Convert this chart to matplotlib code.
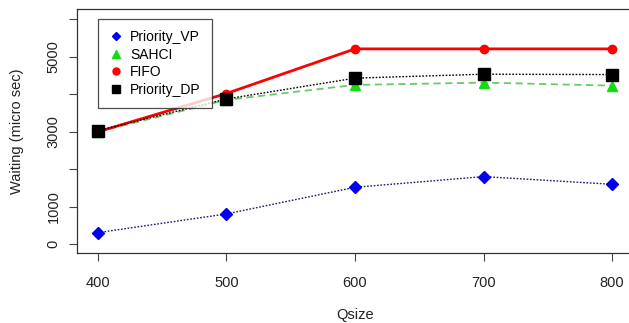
import matplotlib
matplotlib.use("Agg")
import matplotlib.pyplot as plt
from matplotlib.lines import Line2D

plt.rcParams['font.family'] = ['Liberation Sans', 'DejaVu Sans']

# data
qsize = [400, 500, 600, 700, 800]
priority_vp = [310, 810, 1520, 1805, 1600]
sahci = [3000, 3850, 4250, 4310, 4230]
fifo = [3000, 4020, 5210, 5210, 5210]
priority_dp = [3030, 3875, 4430, 4535, 4525]

y_ticks = [0, 1000, 2000, 3000, 4000, 5000, 6000]
y_labels = ['0', '1000', '', '3000', '', '5000', '']

fig = plt.figure(figsize=(6.29, 3.23), dpi=100)
ax = fig.add_axes([0.1229, 0.2158, 0.8830, 0.7548])

ax.plot(qsize, priority_vp, color='#1a1a70', linestyle=(0, (1.2, 1.2)), linewidth=1,
        marker='D', markersize=6, markerfacecolor='#0000ee', markeredgecolor='#0000ee')
ax.plot(qsize, sahci, color='#66cc66', linestyle=(0, (4, 2.5)), linewidth=1.3,
        marker='^', markersize=7, markerfacecolor='#11dd11', markeredgecolor='#11dd11')
ax.plot(qsize, fifo, color='#ff0000', linestyle='-', linewidth=2,
        marker='o', markersize=6, markerfacecolor='#ff0000', markeredgecolor='#ff0000')
ax.plot(qsize, priority_dp, color='black', linestyle=(0, (1.2, 1.2)), linewidth=1,
        marker='s', markersize=8, markerfacecolor='black', markeredgecolor='black')

ax.set_xlim(384, 816)
ax.set_ylim(-240, 6260)
ax.set_xticks(qsize)
ax.set_yticks(y_ticks)
ax.set_yticklabels(y_labels, rotation=90, va='center')
ax.tick_params(axis='both', direction='out', length=6, width=0.8, color='#444444',
               labelsize=10.5, labelcolor='#222222')
ax.tick_params(axis='x', pad=10)
ax.tick_params(axis='y', pad=6)
for s in ax.spines.values():
    s.set_color('#333333')
    s.set_linewidth(0.9)

ax.set_xlabel('Qsize', fontsize=10.5, color='#222222', labelpad=13)
ax.set_ylabel('Waiting (micro sec)', fontsize=10.5, color='#222222', labelpad=16)

handles = [
    Line2D([], [], linestyle='none', marker='D', markersize=4.5, color='#0000ee'),
    Line2D([], [], linestyle='none', marker='^', markersize=6, color='#11dd11'),
    Line2D([], [], linestyle='none', marker='o', markersize=5, color='#ff0000'),
    Line2D([], [], linestyle='none', marker='s', markersize=6, color='black'),
]
names = ['Priority_VP', 'SAHCI', 'FIFO', 'Priority_DP']
leg = fig.legend(handles, names, loc='upper left', bbox_to_anchor=(0.1558, 0.942),
                 frameon=True, fancybox=False, edgecolor='#222222', fontsize=10,
                 handlelength=1.0, handletextpad=0.5, labelspacing=0.27,
                 borderpad=0.8, borderaxespad=0)
leg.get_frame().set_linewidth(0.9)

fig.savefig('out.png', dpi=100)
